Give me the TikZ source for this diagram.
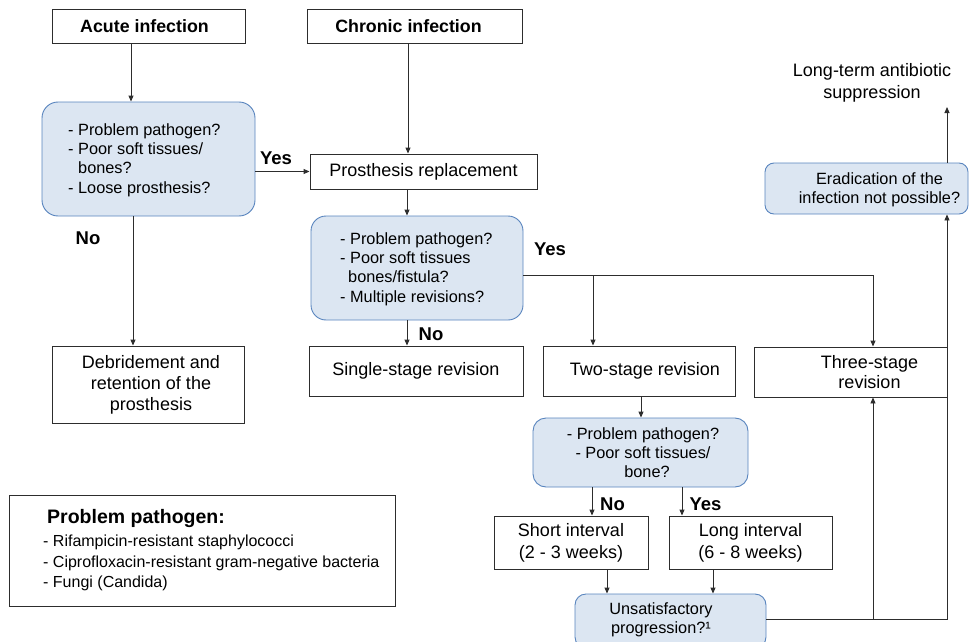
\documentclass[tikz,border=0pt]{standalone}
\usepackage{fontspec}
\setmainfont{Liberation Sans}
\usetikzlibrary{arrows.meta,calc}
\definecolor{qfill}{RGB}{220,230,242}
\definecolor{qdraw}{RGB}{88,132,190}
\definecolor{lncol}{RGB}{45,45,45}
\begin{document}
\begin{tikzpicture}[x=1pt,y=-1pt,
 box/.style={draw=lncol, line width=0.9pt, fill=white, inner sep=0pt, align=center, font=\fontsize{18}{21.5}\selectfont},
 qbox/.style={draw=qdraw, fill=qfill, line width=0.9pt, inner sep=0pt},
 qtxt/.style={inner sep=0pt, font=\fontsize{16.3}{19.3}\selectfont},
 btxt/.style={inner sep=0pt, align=center, font=\fontsize{18}{21.5}\selectfont},
 lbl/.style={inner sep=0pt, font=\bfseries\fontsize{18.5}{22}\selectfont},
 conn/.style={draw=lncol, line width=0.9pt},
 arr/.style={conn, -{Triangle[length=6pt,width=5pt]}},
]
\useasboundingbox (0,0) rectangle (969,642);
\clip (0,0) rectangle (969,642);

% top boxes
\node[box, font=\bfseries\fontsize{17.8}{21}\selectfont, minimum width=193pt, minimum height=34pt] (acute) at (148.5,26) {\hspace*{-8pt}Acute infection};
\node[box, font=\bfseries\fontsize{17.8}{21}\selectfont, minimum width=215pt, minimum height=34pt] (chronic) at (414.5,26) {\hspace*{-12pt}Chronic infection};

% question box 1
\node[qbox, rounded corners=16pt, minimum width=213pt, minimum height=114pt] (q1) at (148.5,159) {};
\node[qtxt, anchor=west, align=left] (q1t) at (68,160) {- Problem pathogen?\\- Poor soft tissues/\\\hspace*{10pt}bones?\\- Loose prosthesis?};

\node[box, minimum width=227pt, minimum height=35pt] (pr) at (423.5,171.5) {Prosthesis replacement};

% question box 2
\node[qbox, rounded corners=15pt, minimum width=212pt, minimum height=104pt] (q2) at (417,268) {};
\node[qtxt, anchor=west, align=left] (q2t) at (340,269) {- Problem pathogen?\\- Poor soft tissues\\\hspace*{8pt}bones/fistula?\\- Multiple revisions?};

% revision boxes
\node[box, minimum width=192pt, minimum height=77pt] (debr) at (148,384.5) {};
\node[btxt, font=\fontsize{18}{21}\selectfont] (debrt) at (151,385) {Debridement and\\retention of the\\prosthesis};
\node[box, minimum width=214pt, minimum height=50pt] (single) at (416,371) {Single-stage revision};
\node[box, minimum width=192pt, minimum height=50pt] (two) at (639,371) {\hspace*{12pt}Two-stage revision};
\node[box, minimum width=193pt, minimum height=50pt] (three) at (850.5,372) {};
\node[btxt, font=\fontsize{18}{19.5}\selectfont] (threet) at (869.5,372) {Three-stage\\revision};

% question box 3
\node[qbox, rounded corners=13pt, minimum width=215pt, minimum height=69pt] (q3) at (640.5,452.5) {};
\node[qtxt, align=center] (q3t) at (643,452.5) {- Problem pathogen?\\- Poor soft tissues/\\\hspace*{8pt}bone?};

\node[box, font=\fontsize{18}{22}\selectfont, minimum width=154pt, minimum height=53pt] (short) at (571,542.5) {Short interval\\(2 - 3 weeks)};
\node[box, font=\fontsize{18}{22}\selectfont, minimum width=163pt, minimum height=53pt] (long) at (750.5,542.5) {Long interval\\(6 - 8 weeks)};

% question box 4
\node[qbox, rounded corners=11pt, minimum width=191pt, minimum height=54pt] (q4) at (670.5,621) {};
\node[qtxt, align=center, font=\fontsize{16.3}{18.5}\selectfont] (q4t) at (661,620) {Unsatisfactory\\progression?¹};

% eradication box
\node[qbox, rounded corners=9pt, minimum width=203pt, minimum height=51pt] (erad) at (866.5,188.5) {};
\node[qtxt, align=center] (eradt) at (879.5,189.5) {Eradication of the\\infection not possible?};

\node[btxt, font=\fontsize{18}{22}\selectfont] (lts) at (872,83) {Long-term antibiotic\\suppression};
\coordinate (ltend) at (947,107);

% legend
\node[box, minimum width=386pt, minimum height=111pt] (leg) at (202,550.5) {};
\node[inner sep=0pt, anchor=west, font=\bfseries\fontsize{19.5}{22}\selectfont] (legt) at (47,518) {Problem pathogen:};
\node[inner sep=0pt, anchor=west, align=left, font=\fontsize{16}{20.7}\selectfont] (legl) at (43,563) {- Rifampicin-resistant staphylococci\\- Ciprofloxacin-resistant gram-negative bacteria\\- Fungi (Candida)};

% labels
\node[lbl] (yes1) at (276,158) {Yes};
\node[lbl] (no1) at (88,238) {No};
\node[lbl] (yes2) at (550,249) {Yes};
\node[lbl] (no2) at (431,334) {No};
\node[lbl] (no3) at (612.5,504) {No};
\node[lbl] (yes3) at (705.5,504) {Yes};

% helper coordinates
\coordinate (ax) at (131,0);
\coordinate (cx) at (408,0);
\coordinate (px) at (407,0);
\coordinate (dx) at (133,0);
\coordinate (yy) at (0,275);
\coordinate (twox) at (593,0);
\coordinate (tx) at (873,0);
\coordinate (q3x) at (641,0);
\coordinate (nx) at (592,0);
\coordinate (yx) at (682,0);
\coordinate (sx) at (607,0);
\coordinate (lx) at (713,0);
\coordinate (uy) at (0,619);
\coordinate (rx) at (947,0);

% connectors
\draw[arr] (acute.south -| ax) -- (q1.north -| ax);
\draw[arr] (chronic.south -| cx) -- (pr.north -| cx);
\draw[arr] (q1.east |- pr.west) -- (pr.west);
\draw[arr] (pr.south -| px) -- (q2.north -| px);
\draw[arr] (q1.south -| dx) -- (debr.north -| dx);
\draw[arr] (q2.south -| px) -- (single.north -| px);
\draw[arr] (q2.east |- yy) -| (three.north -| tx);
\draw[arr] (yy -| twox) -- (two.north -| twox);
\draw[arr] (two.south -| q3x) -- (q3.north -| q3x);
\draw[arr] (q3.south -| nx) -- (short.north -| nx);
\draw[arr] (q3.south -| yx) -- (long.north -| yx);
\draw[arr] (short.south -| sx) -- (q4.north -| sx);
\draw[arr] (long.south -| lx) -- (q4.north -| lx);
\draw[arr] (q4.east |- uy) -| (erad.south -| rx);
\draw[arr] (uy -| tx) -- (three.south -| tx);
\draw[arr] (erad.north -| rx) -- (ltend);
\end{tikzpicture}
\end{document}
